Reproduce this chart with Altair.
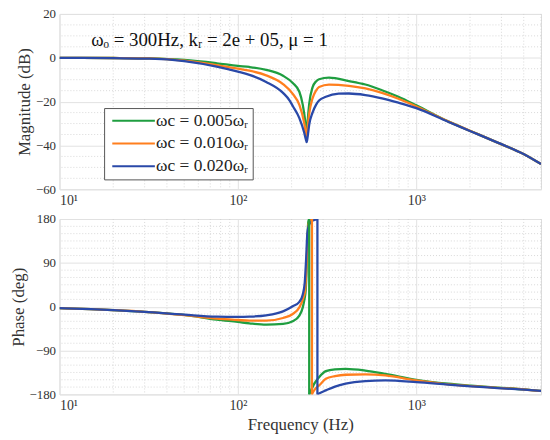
import altair as alt
import pandas as pd

# ---------------- data ----------------
series_names = ["ωc = 0.005ωᵣ", "ωc = 0.010ωᵣ", "ωc = 0.020ωᵣ"]
series_colors = ["#1f9e40", "#ff7f1e", "#2a49a8"]
annotation = "ωₒ = 300Hz, kᵣ = 2e + 05, μ = 1"

# magnitude (dB)
mag_f_green = [10, 20, 32, 50, 76, 100, 116, 144, 179, 203, 221, 231, 238, 243, 246, 251, 262, 274, 285, 324, 419, 518, 642, 794, 1000, 1507, 2028, 2856, 4017, 5000]
mag_db_green = [0, -0.1, -0.3, -1.0, -2.5, -3.7, -4.2, -5.5, -8.2, -11.5, -15.5, -21.5, -28.5, -36, -29, -21, -13.5, -10.8, -9.8, -9.1, -10.6, -12.2, -14.8, -17.8, -21.7, -29, -33.5, -38.7, -44, -48.5]

mag_f_orange = [10, 20, 32, 50, 76, 100, 116, 144, 179, 203, 221, 235, 240, 243, 246, 251, 262, 274, 285, 324, 419, 518, 642, 794, 1000, 1507, 2028, 2856, 4017, 5000]
mag_db_orange = [0, -0.1, -0.3, -1.3, -3.3, -5.0, -5.9, -8.0, -12.0, -16.5, -21.5, -29.5, -34, -37.5, -32, -25.5, -18.5, -15, -13.3, -12.2, -12.8, -14, -16, -18.7, -22.2, -29, -33.5, -38.7, -44, -48.5]

mag_f_blue = [10, 20, 32, 50, 76, 100, 116, 144, 179, 195, 203, 221, 235, 240, 243, 246, 251, 262, 274, 285, 311, 367, 419, 518, 642, 794, 1000, 1507, 2028, 2856, 4017, 5000]
mag_db_blue = [0, -0.2, -0.4, -1.5, -4.0, -6.3, -7.8, -11, -16, -19.5, -22, -27.5, -34, -37, -38.5, -36, -30.5, -25, -21.5, -19.5, -17.8, -16.4, -16.3, -17, -18.5, -20.5, -23, -29.2, -33.6, -38.7, -44, -48.5]

# phase (deg): branch before the +180 wrap and branch after it
ph_f_green_a = [10, 15, 20, 30, 50, 76, 100, 116, 144, 179, 203, 221, 231, 236, 240, 243, 246, 248, 251]
ph_deg_green_a = [-3, -5, -7, -10.5, -17, -26.6, -31.3, -34.1, -36.8, -35.4, -30, -18.4, -1.4, 15, 35, 80, 150, 174, 180]
ph_f_green_b = [251, 257, 268, 285, 311, 350, 402, 518, 670, 1000, 1507, 2028, 2856, 4017, 5000]
ph_deg_green_b = [-180, -172, -158, -144.6, -132.3, -128.5, -127.5, -131, -137.7, -150, -158, -162, -166, -169.8, -173]

ph_f_orange_a = [10, 15, 20, 30, 50, 76, 100, 116, 144, 179, 203, 221, 233, 238, 242, 246, 250, 254, 260]
ph_deg_orange_a = [-3, -5, -7, -10.5, -17.5, -24.5, -27.3, -28.6, -28.6, -23.2, -15, -1.4, 19, 33, 80, 142, 172, 178, 180]
ph_f_orange_b = [260, 265, 274, 285, 311, 350, 402, 518, 670, 1000, 1507, 2028, 2856, 4017, 5000]
ph_deg_orange_b = [-180, -174, -167, -161.6, -148, -142.5, -139.7, -139, -141, -151.4, -159.5, -163, -166.5, -170, -173]

ph_f_blue_a = [10, 15, 20, 30, 50, 76, 100, 116, 144, 179, 203, 221, 231, 237, 241, 245, 250, 257, 268, 279]
ph_deg_blue_a = [-3, -5, -7, -10.5, -16.4, -20.5, -21, -20.5, -17.8, -9.6, 1, 10, 25, 50, 95, 150, 167, 174, 178, 180]
ph_f_blue_b = [279, 285, 311, 350, 402, 518, 670, 1000, 1507, 2028, 2856, 4017, 5000]
ph_deg_blue_b = [-180, -178, -171.8, -164, -158, -152.8, -151.4, -154.8, -160, -163.6, -167, -170.4, -173]

wrap_freq = [251, 260, 279]

# axes / grid values
x_major = [10, 100, 1000]
x_minor = [20, 30, 40, 50, 60, 70, 80, 90, 200, 300, 400, 500, 600, 700, 800, 900, 2000, 3000, 4000, 5000]
mag_major = [-60, -40, -20, 0, 20]
mag_minor = [-55, -50, -45, -35, -30, -25, -15, -10, -5, 5, 10, 15]
ph_major = [-180, -90, 0, 90, 180]
ph_minor = [-165, -150, -135, -120, -105, -75, -60, -45, -30, -15, 15, 30, 45, 60, 75, 105, 120, 135, 150, 165]

# ---------------- build tables ----------------
mag_rows = []
for name, fs, vs in zip(series_names, [mag_f_green, mag_f_orange, mag_f_blue],
                        [mag_db_green, mag_db_orange, mag_db_blue]):
    for i, (f, v) in enumerate(zip(fs, vs)):
        mag_rows.append({"f": f, "v": v, "s": name, "o": i})
mag_df = pd.DataFrame(mag_rows)

ph_rows = []
for name, fa, va, fb, vb in zip(series_names,
                                [ph_f_green_a, ph_f_orange_a, ph_f_blue_a],
                                [ph_deg_green_a, ph_deg_orange_a, ph_deg_blue_a],
                                [ph_f_green_b, ph_f_orange_b, ph_f_blue_b],
                                [ph_deg_green_b, ph_deg_orange_b, ph_deg_blue_b]):
    for i, (f, v) in enumerate(zip(fa, va)):
        ph_rows.append({"f": f, "v": v, "s": name, "seg": name + "a", "o": i})
    for i, (f, v) in enumerate(zip(fb, vb)):
        ph_rows.append({"f": f, "v": v, "s": name, "seg": name + "b", "o": i})
ph_df = pd.DataFrame(ph_rows)

wrap_df = pd.DataFrame({"f": wrap_freq, "s": series_names,
                        "v": [-180] * 3, "hi": [180] * 3})

FONT = "Liberation Serif, Times New Roman, DejaVu Serif, serif"
W = 486
H = 177
xscale = alt.Scale(type="log", domain=[10, 5000], nice=False)
color_scale = alt.Scale(domain=series_names, range=series_colors)

minor_grid = dict(color="#cfcfcf", strokeDash=[1, 2], strokeWidth=0.8)


def x_axis(title):
    return alt.Axis(values=x_major, grid=True, gridColor="#e2e2e2", ticks=False, domain=False,
                    labelExpr="datum.value == 10 ? '10¹' : datum.value == 100 ? '10²' : '10³'",
                    labelFont=FONT, labelFontSize=14, labelColor="#333", labelPadding=4,
                    title=title, titleFont=FONT, titleFontSize=17, titleFontWeight="normal",
                    titleColor="#333", titlePadding=4)


def y_axis(values, title):
    return alt.Axis(values=values, grid=True, gridColor="#e2e2e2", ticks=False, domain=False,
                    labelFont=FONT, labelFontSize=13, labelColor="#333", labelPadding=4,
                    title=title, titleFont=FONT, titleFontSize=17, titleFontWeight="normal",
                    titleColor="#333", titlePadding=2)


# ---------------- magnitude panel ----------------
mscale = alt.Scale(domain=[-60, 20], nice=False)
mx_axis = x_axis(None)
my_axis = y_axis(mag_major, "Magnitude (dB)")
m_vgrid = alt.Chart(pd.DataFrame({"f": x_minor})).mark_rule(**minor_grid).encode(
    x=alt.X("f:Q", scale=xscale, axis=mx_axis))
m_hgrid = alt.Chart(pd.DataFrame({"v": mag_minor})).mark_rule(**minor_grid).encode(
    y=alt.Y("v:Q", scale=mscale, axis=my_axis))
m_lines = alt.Chart(mag_df).mark_line(strokeWidth=2.3, interpolate="monotone", clip=True).encode(
    x=alt.X("f:Q", scale=xscale, axis=mx_axis),
    y=alt.Y("v:Q", scale=mscale, axis=my_axis),
    color=alt.Color("s:N", scale=color_scale,
                    legend=alt.Legend(orient="none", legendX=45, legendY=95, title=None,
                                      symbolType="M-4.3,0H4.3", symbolSize=100, symbolStrokeWidth=2,
                                      symbolOffset=17,
                                      labelFont=FONT, labelFontSize=17.5, labelColor="#222",
                                      strokeColor="#555", fillColor="white", padding=4,
                                      rowPadding=4, labelOffset=14, labelLimit=300)),
    order="o:Q",
)
m_text = alt.Chart(pd.DataFrame({"t": [annotation]})).mark_text(
    align="left", baseline="middle", font=FONT, fontSize=19, color="#111").encode(
    x=alt.value(32), y=alt.value(26), text="t:N")

top = alt.layer(m_vgrid, m_hgrid, m_lines, m_text).properties(width=W, height=H)

# ---------------- phase panel ----------------
pscale = alt.Scale(domain=[-180, 180], nice=False)
px_axis = x_axis("Frequency (Hz)")
py_axis = y_axis(ph_major, "Phase (deg)")
p_vgrid = alt.Chart(pd.DataFrame({"f": x_minor})).mark_rule(**minor_grid).encode(
    x=alt.X("f:Q", scale=xscale, axis=px_axis))
p_hgrid = alt.Chart(pd.DataFrame({"v": ph_minor})).mark_rule(**minor_grid).encode(
    y=alt.Y("v:Q", scale=pscale, axis=py_axis))
p_lines = alt.Chart(ph_df).mark_line(strokeWidth=2.3, interpolate="monotone", clip=True).encode(
    x=alt.X("f:Q", scale=xscale, axis=px_axis),
    y=alt.Y("v:Q", scale=pscale, axis=py_axis),
    color=alt.Color("s:N", scale=color_scale, legend=None),
    detail="seg:N",
    order="o:Q",
)
p_wrap = alt.Chart(wrap_df).mark_rule(strokeWidth=2.3).encode(
    x=alt.X("f:Q", scale=xscale, axis=px_axis),
    y=alt.Y("v:Q", scale=pscale, axis=py_axis),
    y2="hi:Q",
    color=alt.Color("s:N", scale=color_scale, legend=None),
)

bottom = alt.layer(p_vgrid, p_hgrid, p_lines, p_wrap).properties(width=W, height=H)

chart = alt.vconcat(top, bottom, spacing=4).resolve_legend(color="independent").properties(
    padding={"left": 0, "top": -3, "right": 0, "bottom": 0}
).configure_view(stroke="#555", strokeWidth=1).configure(background="white")

chart.save("out.html", embed_options={"renderer": "svg", "actions": False})
